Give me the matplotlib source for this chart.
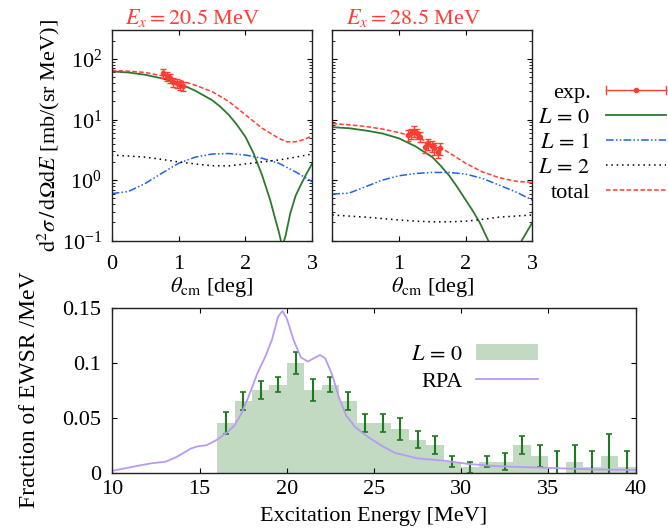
import matplotlib
matplotlib.use('Agg')
import matplotlib.pyplot as plt
import numpy as np
from matplotlib.lines import Line2D
from matplotlib.legend_handler import HandlerBase

plt.rcParams.update({'font.size': 16, 'font.family': 'Liberation Serif',
                     'mathtext.fontset': 'stix'})

RED = '#ff3d33'
GREEN = '#2b7a2b'
BLUE = '#1a62f0'
BAR = '#c2d9c2'
EBAR = '#1f7a1f'
RPA_C = '#b89af5'

# ---- Ex = 20.5 MeV ----
th_a = [0.0, 0.25, 0.5, 0.75, 1.0, 1.25, 1.5, 1.62, 1.75, 1.87, 2.0, 2.12, 2.25,
        2.37, 2.45, 2.5, 2.55, 2.6, 2.67, 2.75, 2.82, 2.9, 3.0]
L0_a = [62.5, 60, 55, 48, 40, 30, 21, 16.5, 12, 8.3, 5.2, 2.8, 1.2,
        0.47, 0.22, 0.14, 0.08, 0.12, 0.28, 0.55, 0.8, 1.2, 1.9]
th_b = [0.0, 0.25, 0.5, 0.75, 1.0, 1.25, 1.5, 1.75, 2.0, 2.25, 2.5, 2.75, 3.0]
L1_a = [0.6, 0.65, 0.88, 1.3, 1.9, 2.4, 2.7, 2.75, 2.6, 2.3, 1.9, 1.37, 0.94]
L2_a = [2.6, 2.5, 2.4, 2.2, 2.0, 1.85, 1.73, 1.72, 1.85, 2.0, 2.15, 2.4, 2.7]
th_tot_a = [0.0, 0.25, 0.5, 0.75, 1.0, 1.25, 1.5, 1.75, 2.0, 2.25, 2.5, 2.62, 2.75, 2.88, 3.0]
tot_a = [65, 63, 60, 53, 45, 37, 29, 20, 12, 7.2, 4.9, 4.3, 4.3, 4.7, 5.4]
exp_th_a = [0.77, 0.82, 0.87, 0.92, 0.97, 1.02, 1.07]
exp_a = [58, 52, 48, 42, 40, 37, 36]
exp_err_a = [10, 9, 8, 7, 7, 6, 6]

# ---- Ex = 28.5 MeV ----
th_c = [0.0, 0.25, 0.5, 0.75, 1.0, 1.25, 1.5, 1.62, 1.75, 1.87, 2.0, 2.1, 2.21,
        2.34, 2.45, 2.6, 2.72, 2.84, 3.0]
L0_b = [7.5, 7.2, 6.6, 5.9, 4.9, 3.6, 2.4, 1.75, 1.2, 0.78, 0.47, 0.32, 0.2,
        0.1, 0.04, 0.005, 0.04, 0.1, 0.2]
L1_b = [0.59, 0.61, 0.78, 1.0, 1.18, 1.29, 1.34, 1.34, 1.26, 1.07, 0.83, 0.64, 0.47]
L2_b = [0.266, 0.255, 0.245, 0.232, 0.22, 0.21, 0.205, 0.205, 0.21, 0.225, 0.245, 0.255, 0.266]
tot_b = [8.6, 8.2, 7.7, 7.0, 6.1, 5.1, 4.1, 2.84, 1.9, 1.37, 1.1, 0.96, 0.91]
exp_th_b = [1.14, 1.18, 1.225, 1.265, 1.315, 1.39, 1.44, 1.49, 1.53, 1.58, 1.615]
exp_b = [5.6, 5.9, 6.5, 5.9, 5.2, 3.55, 3.9, 3.7, 3.35, 2.94, 3.35]
exp_err_b = [1.1, 1.2, 1.3, 1.2, 1.0, 0.7, 0.8, 0.75, 0.7, 0.6, 0.7]

# ---- strength distribution ----
e_bins = np.arange(16.5, 40.0, 1.0)
frac = [0.045, 0.065, 0.075, 0.080, 0.100, 0.075, 0.080, 0.065, 0.045, 0.045,
        0.040, 0.030, 0.025, 0.010, 0.005, 0.010, 0.010, 0.025, 0.015, 0.0,
        0.010, 0.005, 0.015, 0.005]
frac_err = [0.010, 0.008, 0.008, 0.007, 0.010, 0.010, 0.007, 0.008, 0.008, 0.008,
            0.010, 0.0075, 0.008, 0.005, 0.005, 0.005, 0.0075, 0.008, 0.010, 0.020,
            0.015, 0.015, 0.020, 0.015]
rpa_e = [10.0, 11.2, 12.2, 13.05, 13.7, 14.5, 14.9, 15.4, 16.0, 16.6, 17.0, 17.4,
         17.8, 18.3, 18.75, 19.15, 19.5, 19.75, 20.0, 20.4, 20.8, 21.2, 21.55,
         21.9, 22.2, 22.6, 23.0, 23.4, 23.95, 24.7, 25.5, 26.2, 27.5, 29.0, 30.4,
         31.9, 33.8, 35.7, 37.6, 40.0]
rpa = [0.0018, 0.0055, 0.0085, 0.010, 0.0145, 0.022, 0.024, 0.025, 0.030, 0.037,
       0.043, 0.054, 0.069, 0.090, 0.105, 0.121, 0.142, 0.147, 0.140, 0.120, 0.105,
       0.101, 0.104, 0.107, 0.104, 0.089, 0.068, 0.052, 0.041, 0.032, 0.024, 0.018,
       0.013, 0.011, 0.008, 0.006, 0.005, 0.004, 0.003, 0.0025]

ls_L1 = (0, (5, 1.5, 1, 1.5, 1, 1.5))
ls_L2 = (0, (1, 2.5))
ls_tot = (0, (3, 1.5))

fig = plt.figure(figsize=(6.68, 5.29), dpi=100)
ax1 = fig.add_axes([0.1672, 0.545, 0.3003, 0.398])
ax2 = fig.add_axes([0.4975, 0.545, 0.2994, 0.398])
ax3 = fig.add_axes([0.1684, 0.1064, 0.783, 0.312])


def draw_panel(ax, th0, l0, l1, l2, tot_th, tot, eth, ev, ee, title):
    ax.plot(th0, l0, color=GREEN, lw=1.3)
    ax.plot(th_b, l1, color=BLUE, lw=1.1, ls=ls_L1)
    ax.plot(th_b, l2, color='black', lw=1.1, ls=ls_L2)
    ax.plot(tot_th, tot, color=RED, lw=1.1, ls=ls_tot)
    ax.errorbar(eth, ev, yerr=ee, fmt='o', ms=3, color=RED, ecolor=RED,
                elinewidth=1.0, capsize=2.5)
    ax.set_yscale('log')
    ax.set_xlim(0, 3)
    ax.set_ylim(0.1, 300)
    ax.set_xticks([0, 1, 2, 3])
    ax.tick_params(which='both', direction='in', top=True, right=True)
    ax.tick_params(axis='x', pad=10)
    ax.tick_params(axis='y', pad=7)
    ax.set_xlabel(r'$\theta_{\mathrm{cm}}$ [deg]', labelpad=1)
    ax.text(0.405, 1.005, title, color=RED, transform=ax.transAxes,
            ha='center', va='bottom')


draw_panel(ax1, th_a, L0_a, L1_a, L2_a, th_tot_a, tot_a,
           exp_th_a, exp_a, exp_err_a, r'$E_x = 20.5$ MeV')
draw_panel(ax2, th_c, L0_b, L1_b, L2_b, th_b, tot_b,
           exp_th_b, exp_b, exp_err_b, r'$E_x = 28.5$ MeV')
ax1.set_ylabel(r'$\mathrm{d}^2\sigma\,/\,\mathrm{d}\Omega\mathrm{d}E$ [mb/(sr MeV)]', labelpad=0)
ax2.tick_params(labelleft=False)
ax2.set_xticklabels(['', '1', '2', '3'])


class ExpHandler(HandlerBase):
    def create_artists(self, legend, orig_handle, xdescent, ydescent,
                       width, height, fontsize, trans):
        y = height / 2 - ydescent
        x0, x1 = -xdescent, -xdescent + width
        c = 3
        arts = [Line2D([x0, x1], [y, y], color=RED, lw=1.0),
                Line2D([x0, x0], [y - c, y + c], color=RED, lw=1.0),
                Line2D([x1, x1], [y - c, y + c], color=RED, lw=1.0),
                Line2D([(x0 + x1) / 2], [y], color=RED, marker='o', ms=3)]
        for a in arts:
            a.set_transform(trans)
        return arts


exp_h = Line2D([], [], color=RED)
handles = [exp_h,
           Line2D([], [], color=GREEN, lw=1.3),
           Line2D([], [], color=BLUE, lw=1.1, ls=ls_L1),
           Line2D([], [], color='black', lw=1.1, ls=ls_L2),
           Line2D([], [], color=RED, lw=1.1, ls=ls_tot)]
labels = ['exp.', r'$L\,=\,0$', r'$L\,=\,1$', r'$L\,=\,2$', 'total']
fig.legend(handles, labels, loc='upper right', bbox_to_anchor=(0.997, 0.845),
           frameon=False, markerfirst=False, handlelength=2.7, handletextpad=0.7,
           labelspacing=0.2, borderaxespad=0, borderpad=0,
           handler_map={exp_h: ExpHandler()})

# bottom panel
bars = ax3.bar(e_bins, frac, width=1.0, color=BAR)
ax3.errorbar(e_bins, frac, yerr=frac_err, fmt='none', ecolor=EBAR,
             elinewidth=1.5, capsize=2, capthick=1.2)
rpa_line, = ax3.plot(rpa_e, rpa, color=RPA_C, lw=1.3)
ax3.set_xlim(10, 40)
ax3.set_ylim(0, 0.15)
ax3.set_yticks([0, 0.05, 0.1, 0.15])
ax3.set_yticklabels(['0', '0.05', '0.1', '0.15'])
ax3.tick_params(direction='in', top=True, right=True)
ax3.tick_params(axis='y', pad=8)
ax3.tick_params(axis='x', pad=5)
ax3.set_xlabel('Excitation Energy [MeV]', labelpad=6)
ax3.set_ylabel('Fraction of EWSR /MeV', labelpad=16, fontsize=17)
ax3.legend([bars, rpa_line], [r'$L\,=\,0$', 'RPA'], loc='upper left',
           bbox_to_anchor=(0.57, 0.78), frameon=False, markerfirst=False,
           handlelength=2.8, handletextpad=0.6, labelspacing=0.3,
           borderaxespad=0, borderpad=0)

for ax in (ax1, ax2, ax3):
    for s in ax.spines.values():
        s.set_linewidth(1.0)
        s.set_color('#222222')

fig.savefig('out.png', dpi=100)
